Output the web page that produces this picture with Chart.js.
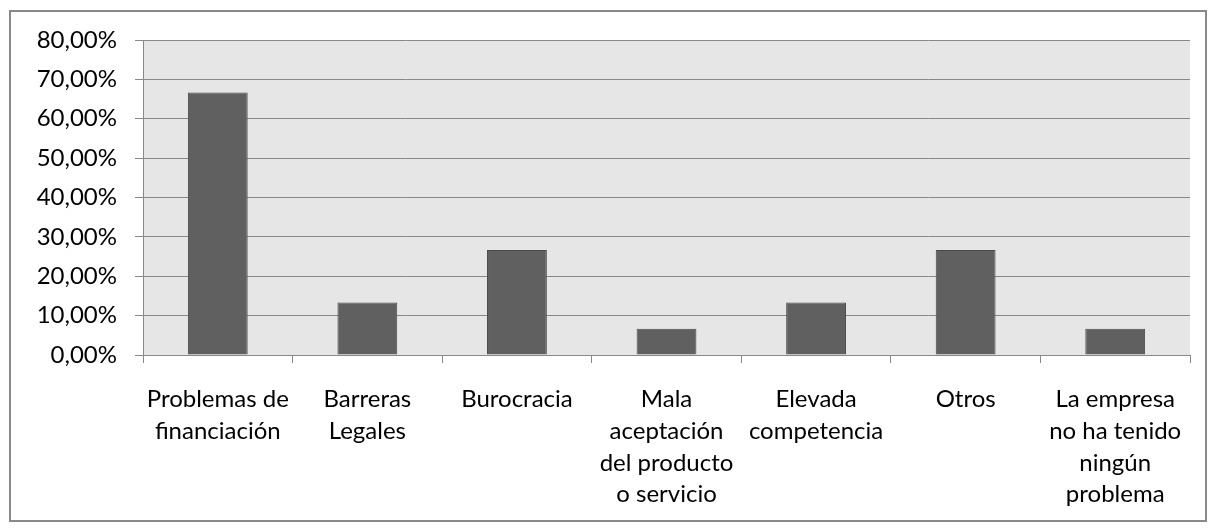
<!DOCTYPE html>
<html><head><meta charset="utf-8">
<script src="https://cdn.jsdelivr.net/npm/chart.js@4.4.1/dist/chart.umd.min.js"></script>
<style>html,body{margin:0;padding:0;background:#fff}#wrap{width:1216px;height:531px;position:relative}</style>
</head><body><div id="wrap"><canvas id="c" width="1216" height="531"></canvas></div>
<script>
const categories = [
  ["Problemas de","financiación"],
  ["Barreras","Legales"],
  ["Burocracia"],
  ["Mala","aceptación","del producto","o servicio"],
  ["Elevada","competencia"],
  ["Otros"],
  ["La empresa","no ha tenido","ningún","problema"]
];
const values = [66.67, 13.33, 26.67, 6.67, 13.33, 26.67, 6.67];
const yMin = 0, yMax = 80, yStep = 10;

const FONT = "Lato, 'Open Sans', sans-serif";
const borderPlugin = {
  id: 'outerBorder',
  beforeDraw(chart) {
    const ctx = chart.ctx, a = chart.chartArea;
    ctx.save();
    ctx.strokeStyle = '#898989';
    ctx.lineWidth = 2;
    ctx.strokeRect(10, 11, 1196, 510);
    ctx.fillStyle = '#e6e6e6';
    ctx.fillRect(a.left, a.top, a.right - a.left, a.bottom - a.top);
    ctx.restore();
  }
};

new Chart(document.getElementById('c'), {
  type: 'bar',
  data: {
    labels: categories,
    datasets: [{
      data: values,
      backgroundColor: '#606060',
      borderColor: '#4a4a4a',
      borderWidth: 1,
      categoryPercentage: 1.0,
      barPercentage: 0.4
    }]
  },
  options: {
    responsive: false,
    animation: false,
    devicePixelRatio: 1,
    layout: { padding: { left: 0, right: 26, top: 40, bottom: 0 } },
    plugins: { legend: { display: false }, tooltip: { enabled: false } },
    scales: {
      y: {
        min: yMin, max: yMax,
        ticks: {
          stepSize: yStep, padding: 18, color: '#000',
          font: { family: FONT, size: 24 },
          callback: v => v.toFixed(2).replace('.', ',') + '%'
        },
        grid: { color: '#888', lineWidth: 1, tickLength: 8, drawTicks: true },
        border: { display: true, color: '#888', width: 1 },
        afterFit(s) { s.width = 143; }
      },
      x: {
        offset: true,
        ticks: {
          color: '#000', padding: 20, maxRotation: 0, autoSkip: false,
          font: { family: FONT, size: 24, lineHeight: 1.33 }
        },
        grid: { offset: true, drawOnChartArea: false, drawTicks: true, tickLength: 8, color: '#888', lineWidth: 1 },
        border: { display: true, color: '#888', width: 1 },
        afterFit(s) { s.height = 176; }
      }
    }
  },
  plugins: [borderPlugin]
});
</script></body></html>
